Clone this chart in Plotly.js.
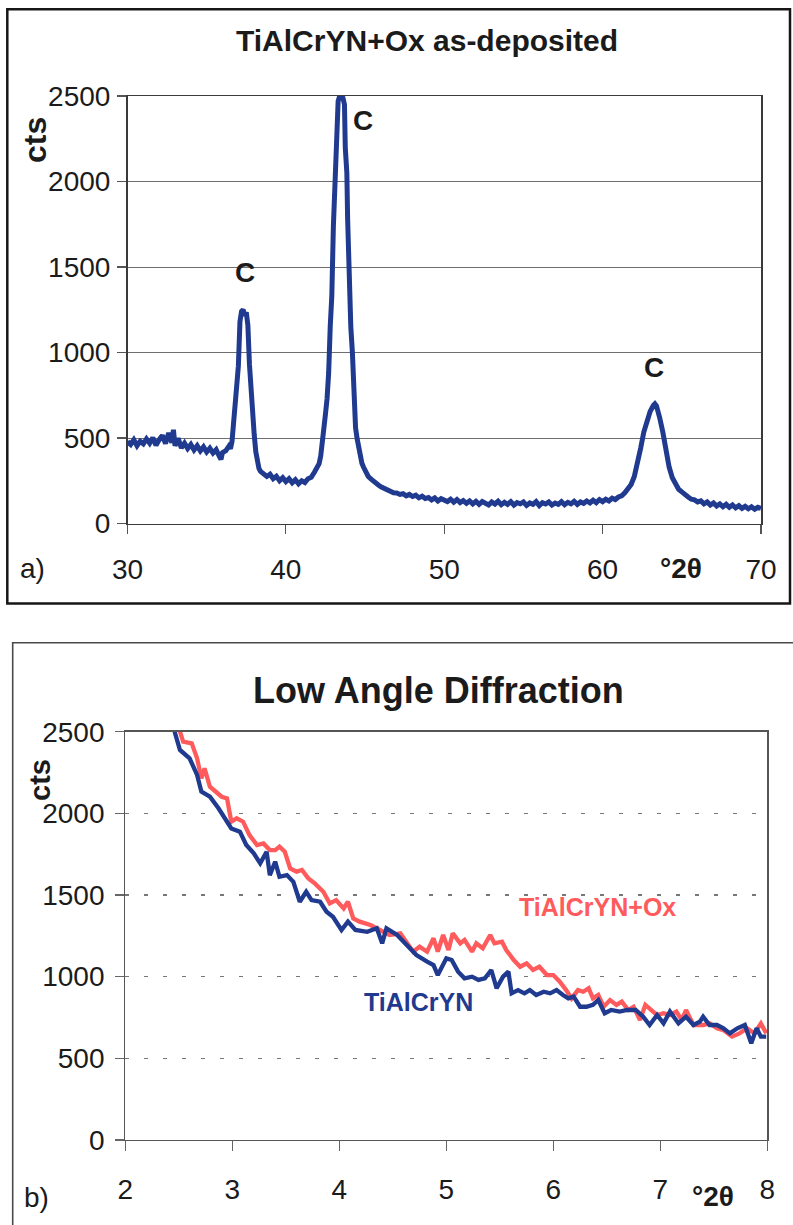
<!DOCTYPE html>
<html>
<head>
<meta charset="utf-8">
<script src="https://cdn.plot.ly/plotly-3.0.1.min.js"></script>
<style>
  html, body { margin: 0; padding: 0; background: #ffffff; }
  #chart { width: 793px; height: 1225px; }
</style>
</head>
<body>
<div id="chart"></div>
<script>
// ---------- Panel a) : XRD, TiAlCrYN+Ox as-deposited ----------
const xrdAngle = [
  30.0,30.2,30.4,30.6,30.8,31.0,31.2,31.4,31.6,31.8,32.0,32.2,32.4,32.6,32.8,32.9,33.0,33.2,33.4,33.6,
  33.8,34.0,34.2,34.4,34.6,34.8,35.0,35.2,35.4,35.6,35.8,35.9,36.0,36.2,36.4,36.5,36.6,36.7,36.8,36.9,
  37.0,37.1,37.2,37.3,37.4,37.5,37.6,37.7,37.8,37.9,38.0,38.1,38.2,38.3,38.4,38.6,38.8,39.0,39.2,39.4,
  39.6,39.8,40.0,40.2,40.4,40.6,40.8,41.0,41.2,41.4,41.6,41.8,42.0,42.1,42.2,42.3,42.4,42.5,42.6,42.7,
  42.8,42.9,43.0,43.1,43.2,43.3,43.4,43.5,43.6,43.7,43.75,43.85,43.9,44.0,44.1,44.2,44.3,44.4,44.5,44.6,
  44.7,44.8,44.9,45.0,45.2,45.4,45.6,45.8,46.0,46.2,46.4,46.6,46.8,47.0,47.2,47.4,47.6,47.8,48.0,48.2,
  48.4,48.6,48.8,49.0,49.2,49.4,49.6,49.8,50.0,50.2,50.4,50.6,50.8,51.0,51.2,51.4,51.6,51.8,52.0,52.2,
  52.4,52.6,52.8,53.0,53.2,53.4,53.6,53.8,54.0,54.2,54.4,54.6,54.8,55.0,55.2,55.4,55.6,55.8,56.0,56.2,
  56.4,56.6,56.8,57.0,57.2,57.4,57.6,57.8,58.0,58.2,58.4,58.6,58.8,59.0,59.2,59.4,59.6,59.8,60.0,60.2,
  60.4,60.6,60.8,61.0,61.2,61.4,61.6,61.8,62.0,62.2,62.4,62.6,62.8,63.0,63.2,63.3,63.4,63.5,63.6,63.8,
  64.0,64.2,64.4,64.6,64.8,65.0,65.2,65.4,65.6,65.8,66.0,66.2,66.4,66.6,66.8,67.0,67.2,67.4,67.6,67.8,
  68.0,68.2,68.4,68.6,68.8,69.0,69.2,69.4,69.6,69.8,70.0
];
const xrdCounts = [
  478,462,489,455,481,466,495,470,502,458,490,515,468,530,472,548,455,498,442,470,
  438,462,430,455,425,448,418,440,412,432,392,375,415,425,452,438,480,610,680,790,
  920,1180,1240,1250,1215,1235,1160,930,760,650,520,420,360,322,305,290,275,288,262,276,
  250,268,245,262,238,256,232,250,240,262,270,300,330,350,395,460,545,640,730,880,
  1150,1330,1740,2020,2240,2470,2500,2500,2490,2450,2200,2050,1780,1350,1150,1000,680,560,495,430,
  385,352,330,305,275,258,240,228,215,205,196,190,180,178,170,174,162,170,158,166,
  150,160,146,152,138,150,132,145,136,128,142,125,140,122,134,118,132,115,130,112,
  128,120,108,126,114,130,110,124,112,128,108,122,115,126,106,120,112,128,105,122,
  114,126,108,120,112,128,110,124,115,130,112,126,118,132,120,136,122,140,128,142,
  132,148,140,155,162,180,200,228,275,350,440,535,600,655,690,700,688,660,620,535,
  430,330,268,228,200,185,165,155,142,138,126,132,115,126,108,120,102,115,98,112,
  95,108,92,104,88,100,86,98,84,95,88
];
const xrdPeakAngle  = [37.42, 44.9, 63.26];
const xrdPeakCounts = [1468, 2358, 911];
const xrdPeakLabels = ["C", "C", "C"];
const xrdTicksX = [30, 40, 50, 60, 70];
const xrdTicksY = [0, 500, 1000, 1500, 2000, 2500];

// ---------- Panel b) : Low Angle Diffraction ----------
const lowAngleBlue = [
  2.46,2.51,2.60,2.67,2.71,2.79,2.87,2.93,2.99,3.07,3.13,3.20,3.26,3.32,3.35,3.40,3.44,3.51,3.57,3.63,
  3.69,3.74,3.82,3.88,3.94,4.02,4.08,4.15,4.26,4.35,4.40,4.44,4.54,4.63,4.72,4.82,4.88,4.92,5.00,5.05,
  5.11,5.17,5.24,5.30,5.36,5.42,5.47,5.53,5.58,5.61,5.67,5.73,5.78,5.84,5.91,5.97,6.03,6.09,6.14,6.19,
  6.25,6.31,6.37,6.42,6.48,6.54,6.62,6.69,6.77,6.84,6.90,6.97,7.03,7.09,7.17,7.24,7.31,7.37,7.40,7.46,
  7.53,7.59,7.65,7.72,7.79,7.85,7.90,7.94,7.99
];
const ctsBlue = [
  2500,2388,2337,2235,2133,2102,2031,1970,1908,1888,1806,1755,1694,1765,1622,1704,1612,1622,1581,1459,
  1520,1469,1459,1398,1367,1286,1337,1286,1275,1296,1204,1296,1255,1194,1133,1092,1071,1010,1112,1102,
  1031,990,1000,980,990,1041,929,1000,1031,898,918,898,918,888,908,898,918,888,867,878,
  816,816,827,857,776,796,786,796,796,755,704,765,714,786,714,755,704,725,755,704,
  704,684,653,684,704,592,684,633,633
];
const lowAngleRed = [
  2.51,2.54,2.62,2.67,2.71,2.74,2.79,2.85,2.90,2.95,2.99,3.04,3.10,3.16,3.23,3.29,3.35,3.40,3.44,3.49,
  3.54,3.60,3.65,3.71,3.77,3.85,3.91,3.97,4.04,4.08,4.13,4.19,4.29,4.38,4.47,4.57,4.63,4.69,4.75,4.82,
  4.88,4.92,4.97,5.02,5.06,5.13,5.17,5.24,5.28,5.34,5.41,5.45,5.52,5.56,5.63,5.69,5.75,5.81,5.87,5.94,
  6.00,6.06,6.12,6.17,6.23,6.28,6.33,6.37,6.42,6.47,6.53,6.59,6.64,6.70,6.75,6.81,6.86,6.90,6.97,7.03,
  7.09,7.15,7.20,7.24,7.31,7.40,7.46,7.53,7.59,7.67,7.74,7.81,7.88,7.94,7.99
];
const ctsRed = [
  2500,2439,2429,2337,2214,2276,2163,2133,2102,2092,1949,1970,1949,1867,1806,1816,1775,1775,1796,1765,
  1663,1643,1653,1602,1571,1520,1449,1469,1418,1459,1357,1337,1316,1286,1255,1265,1214,1153,1184,1153,
  1235,1153,1255,1163,1265,1204,1225,1153,1204,1174,1255,1204,1214,1163,1102,1061,1082,1041,1061,1010,
  1010,969,918,867,918,908,929,867,888,816,857,827,847,796,816,735,827,806,765,776,
  765,786,735,796,704,704,714,684,673,633,653,684,653,714,653
];
const seriesNames = ["TiAlCrYN", "TiAlCrYN+Ox"];
const seriesLabelAngle  = [4.74, 6.41];
const seriesLabelCounts = [845, 1427];
const lowTicksX = [2, 3, 4, 5, 6, 7, 8];
const lowTicksY = [0, 500, 1000, 1500, 2000, 2500];

// ---------- styling ----------
const W = 793, H = 1225;
const FONT = "Liberation Sans, Arial, Helvetica, sans-serif";
const INK = "#1b1b1b";
const BLUE = "#1f3a8e";
const RED = "#ff5a5c";
const px = v => v / W;
const py = v => 1 - v / H;

const traces = [
  { x: xrdAngle, y: xrdCounts, xaxis: "x", yaxis: "y", type: "scatter", mode: "lines",
    line: { color: BLUE, width: 5 }, hoverinfo: "skip", showlegend: false },
  { x: lowAngleRed, y: ctsRed, xaxis: "x2", yaxis: "y2", type: "scatter", mode: "lines",
    name: seriesNames[1], line: { color: RED, width: 4.3 }, showlegend: false },
  { x: lowAngleBlue, y: ctsBlue, xaxis: "x2", yaxis: "y2", type: "scatter", mode: "lines",
    name: seriesNames[0], line: { color: BLUE, width: 4.3 }, showlegend: false }
];

const tickFont = { family: FONT, size: 28, color: INK };

const annotations = [];
function paperText(text, x, y, size, bold, extra) {
  annotations.push(Object.assign({
    xref: "paper", yref: "paper", x: px(x), y: py(y),
    xanchor: "center", yanchor: "middle", showarrow: false,
    text: bold ? "<b>" + text + "</b>" : text,
    font: { family: FONT, size: size, color: INK }
  }, extra || {}));
}
paperText("TiAlCrYN+Ox as-deposited", 427, 41, 30, true);
paperText("Low Angle Diffraction", 439, 690, 36, true);
paperText("cts", 35, 140, 32, true, { textangle: -90 });
paperText("cts", 40, 780, 29, true, { textangle: -90 });
paperText("a)", 32, 568, 28, false);
paperText("b)", 36, 1197, 28, false);
paperText("°2θ", 681, 568, 28, true);
paperText("°2θ", 713, 1196, 28, true);

xrdPeakAngle.forEach((a, i) => {
  annotations.push({ xref: "x", yref: "y", x: a, y: xrdPeakCounts[i],
    text: "<b>" + xrdPeakLabels[i] + "</b>", showarrow: false,
    xanchor: "center", yanchor: "middle",
    font: { family: FONT, size: 28, color: INK } });
});
seriesNames.forEach((n, i) => {
  annotations.push({ xref: "x2", yref: "y2", x: seriesLabelAngle[i], y: seriesLabelCounts[i],
    text: "<b>" + n + "</b>", showarrow: false, xanchor: "center", yanchor: "middle",
    font: { family: FONT, size: 25, color: i === 0 ? BLUE : RED } });
});

const layout = {
  width: W, height: H,
  margin: { l: 0, r: 0, t: 0, b: 0 },
  paper_bgcolor: "#ffffff", plot_bgcolor: "#ffffff",
  font: { family: FONT, color: INK },
  showlegend: false,
  xaxis: {
    domain: [px(127.5), px(761)], anchor: "y",
    range: [30, 70], tickvals: xrdTicksX, ticktext: xrdTicksX.map(String),
    showgrid: false, zeroline: false,
    showline: true, linecolor: "#3a3a3a", linewidth: 1.5, mirror: true,
    ticks: "outside", ticklen: 9, tickwidth: 1.2, tickcolor: "#555",
    tickfont: tickFont, ticklabelstandoff: 11
  },
  yaxis: {
    domain: [py(523.5), py(96)], anchor: "x",
    range: [0, 2500], tickvals: xrdTicksY, ticktext: xrdTicksY.map(String),
    showgrid: true, gridcolor: "#6e6e6e", gridwidth: 1, zeroline: false,
    showline: true, linecolor: "#3a3a3a", linewidth: 1.5, mirror: true,
    ticks: "outside", ticklen: 9, tickwidth: 1.2, tickcolor: "#555",
    tickfont: tickFont, ticklabelstandoff: 1
  },
  xaxis2: {
    domain: [px(125.4), px(767.3)], anchor: "y2",
    range: [2, 8], tickvals: lowTicksX, ticktext: lowTicksX.map(String),
    showgrid: false, zeroline: false,
    showline: true, linecolor: "#555", linewidth: 1.3, mirror: true,
    ticks: "outside", ticklen: 10, tickwidth: 1.2, tickcolor: "#666",
    tickfont: tickFont, ticklabelstandoff: 14
  },
  yaxis2: {
    domain: [py(1140), py(731.7)], anchor: "x2",
    range: [0, 2500], tickvals: lowTicksY, ticktext: lowTicksY.map(String),
    showgrid: true, gridcolor: "#777", gridwidth: 1.2, griddash: "4px,15px", zeroline: false,
    showline: true, linecolor: "#555", linewidth: 1.3, mirror: true,
    ticks: "outside", ticklen: 9, tickwidth: 1.2, tickcolor: "#666",
    tickfont: tickFont, ticklabelstandoff: 5
  },
  shapes: [
    { type: "rect", xref: "paper", yref: "paper",
      x0: px(7.3), x1: px(790), y0: py(603.5), y1: py(9.3),
      line: { color: "#161616", width: 2.5 }, fillcolor: "rgba(0,0,0,0)", layer: "below" },
    { type: "rect", xref: "paper", yref: "paper",
      x0: px(12.7), x1: px(830), y0: py(1260), y1: py(642.7),
      line: { color: "#4a4a4a", width: 1.6 }, fillcolor: "rgba(0,0,0,0)", layer: "below" }
  ],
  annotations: annotations
};

Plotly.newPlot("chart", traces, layout, { staticPlot: true, displayModeBar: false });
</script>
</body>
</html>
